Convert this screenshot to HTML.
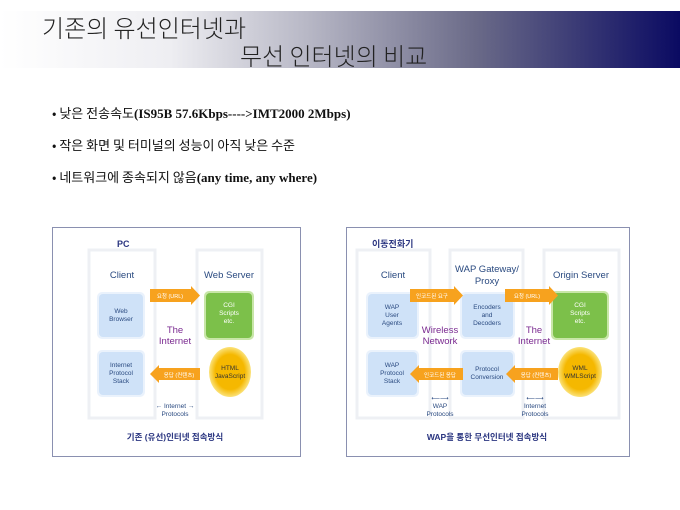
<!DOCTYPE html>
<html><head><meta charset="utf-8"><style>
body{margin:0;width:680px;height:510px;background:#fff;overflow:hidden;position:relative;font-family:"Liberation Sans","Noto Sans CJK KR",sans-serif}
.ban{position:absolute;left:0;top:11px;width:680px;height:57px;background:linear-gradient(to right,#fff 0%,#eeeef2 25%,#b8b8c6 45%,#6a6a88 70%,#0a0a62 100%)}
.t{position:absolute;font-size:24px;color:#222;white-space:nowrap;font-family:"Noto Sans CJK KR",sans-serif;font-weight:300;line-height:28px}
.b{position:absolute;left:52px;font-size:13px;font-family:"Noto Sans CJK KR",sans-serif;color:#111;white-space:nowrap;line-height:16px}
.b b{font-family:"Liberation Serif",serif;font-weight:bold;font-size:13px}
</style></head><body>
<div class="ban"></div>
<div class="t" style="left:42px;top:13px">기존의 유선인터넷과</div>
<div class="t" style="left:240px;top:41px">무선 인터넷의 비교</div>
<div class="b" style="top:105px">• 낮은 전송속도<b>(IS95B 57.6Kbps----&gt;IMT2000 2Mbps)</b></div>
<div class="b" style="top:137px">• 작은 화면 및 터미널의 성능이 아직 낮은 수준</div>
<div class="b" style="top:169px">• 네트워크에 종속되지 않음<b>(any time, any where)</b></div>
<svg width="680" height="510" style="position:absolute;left:0;top:0" font-family="Liberation Sans,Noto Sans CJK KR,sans-serif">
<defs>
<radialGradient id="yc"><stop offset="0.7" stop-color="#f5b800"/><stop offset="1" stop-color="#fbe27a"/></radialGradient>
</defs>
<rect x="52.5" y="227.5" width="248" height="229" fill="#fff" stroke="#8a90b0"/>
<text x="117" y="247" font-size="9" font-weight="bold" fill="#2a3580">PC</text>
<rect x="89" y="250" width="66" height="168" fill="none" stroke="#eef0f4" stroke-width="3"/>
<rect x="197" y="250" width="65" height="168" fill="none" stroke="#eef0f4" stroke-width="3"/>
<text x="122" y="278" font-size="9.5" fill="#2a4a80" text-anchor="middle">Client</text>
<text x="229" y="278" font-size="9.5" fill="#2a4a80" text-anchor="middle">Web Server</text>
<rect x="97" y="292" width="48" height="47" rx="5" fill="#eaf2fc"/>
<rect x="99" y="294" width="44" height="43" rx="4" fill="#cfe2f8"/>
<text x="121" y="313" font-size="6.5" fill="#2a4a80" text-anchor="middle">Web</text>
<text x="121" y="321" font-size="6.5" fill="#2a4a80" text-anchor="middle">Browser</text>
<rect x="97" y="350" width="48" height="47" rx="5" fill="#eaf2fc"/>
<rect x="99" y="352" width="44" height="43" rx="4" fill="#cfe2f8"/>
<text x="121" y="367" font-size="6.5" fill="#2a4a80" text-anchor="middle">Internet</text>
<text x="121" y="375" font-size="6.5" fill="#2a4a80" text-anchor="middle">Protocol</text>
<text x="121" y="383" font-size="6.5" fill="#2a4a80" text-anchor="middle">Stack</text>
<rect x="204" y="291" width="50" height="49" rx="5" fill="#c8e6a8"/>
<rect x="206" y="293" width="46" height="45" rx="4" fill="#7cc04a"/>
<text x="229" y="307" font-size="6.5" fill="#fff" text-anchor="middle">CGI</text>
<text x="229" y="315" font-size="6.5" fill="#fff" text-anchor="middle">Scripts</text>
<text x="229" y="323" font-size="6.5" fill="#fff" text-anchor="middle">etc.</text>
<ellipse cx="230" cy="372" rx="21" ry="25" fill="url(#yc)"/>
<text x="230" y="370" font-size="6.5" fill="#333" text-anchor="middle">HTML</text>
<text x="230" y="378" font-size="6.5" fill="#333" text-anchor="middle">JavaScript</text>
<polygon points="150,289 191,289 191,286 200,295.5 191,305 191,302 150,302" fill="#f7a21e"/>
<text x="170" y="298" font-size="5.5" fill="#fff" text-anchor="middle">요청 (URL)</text>
<polygon points="200,368 159,368 159,365 150,374 159,383 159,380 200,380" fill="#f7a21e"/>
<text x="179" y="377" font-size="5.5" fill="#fff" text-anchor="middle">응답 (컨텐츠)</text>
<text x="175" y="333" font-size="9.5" fill="#7a2a90" text-anchor="middle">The</text>
<text x="175" y="344" font-size="9.5" fill="#7a2a90" text-anchor="middle">Internet</text>
<text x="175" y="408" font-size="6.5" fill="#2a4a80" text-anchor="middle">← Internet →</text>
<text x="175" y="416" font-size="6.5" fill="#2a4a80" text-anchor="middle">Protocols</text>
<text x="175" y="440" font-size="8.5" font-weight="bold" fill="#2a3580" text-anchor="middle">기존 (유선)인터넷 접속방식</text>
<rect x="346.5" y="227.5" width="283" height="229" fill="#fff" stroke="#8a90b0"/>
<text x="372" y="247" font-size="9" font-weight="bold" fill="#2a3580">이동전화기</text>
<rect x="357" y="250" width="73" height="168" fill="none" stroke="#eef0f4" stroke-width="3"/>
<rect x="450" y="250" width="73" height="168" fill="none" stroke="#eef0f4" stroke-width="3"/>
<rect x="544" y="250" width="75" height="168" fill="none" stroke="#eef0f4" stroke-width="3"/>
<text x="393" y="278" font-size="9.5" fill="#2a4a80" text-anchor="middle">Client</text>
<text x="487" y="272" font-size="9.5" fill="#2a4a80" text-anchor="middle">WAP Gateway/</text>
<text x="487" y="284" font-size="9.5" fill="#2a4a80" text-anchor="middle">Proxy</text>
<text x="581" y="278" font-size="9.5" fill="#2a4a80" text-anchor="middle">Origin Server</text>
<rect x="366" y="292" width="53" height="47" rx="5" fill="#eaf2fc"/>
<rect x="368" y="294" width="49" height="43" rx="4" fill="#cfe2f8"/>
<text x="392" y="309" font-size="6.5" fill="#2a4a80" text-anchor="middle">WAP</text>
<text x="392" y="317" font-size="6.5" fill="#2a4a80" text-anchor="middle">User</text>
<text x="392" y="325" font-size="6.5" fill="#2a4a80" text-anchor="middle">Agents</text>
<rect x="366" y="350" width="53" height="47" rx="5" fill="#eaf2fc"/>
<rect x="368" y="352" width="49" height="43" rx="4" fill="#cfe2f8"/>
<text x="392" y="367" font-size="6.5" fill="#2a4a80" text-anchor="middle">WAP</text>
<text x="392" y="375" font-size="6.5" fill="#2a4a80" text-anchor="middle">Protocol</text>
<text x="392" y="383" font-size="6.5" fill="#2a4a80" text-anchor="middle">Stack</text>
<rect x="460" y="292" width="55" height="47" rx="5" fill="#eaf2fc"/>
<rect x="462" y="294" width="51" height="43" rx="4" fill="#cfe2f8"/>
<text x="487" y="309" font-size="6.5" fill="#2a4a80" text-anchor="middle">Encoders</text>
<text x="487" y="317" font-size="6.5" fill="#2a4a80" text-anchor="middle">and</text>
<text x="487" y="325" font-size="6.5" fill="#2a4a80" text-anchor="middle">Decoders</text>
<rect x="460" y="350" width="55" height="47" rx="5" fill="#eaf2fc"/>
<rect x="462" y="352" width="51" height="43" rx="4" fill="#cfe2f8"/>
<text x="487" y="371" font-size="6.5" fill="#2a4a80" text-anchor="middle">Protocol</text>
<text x="487" y="379" font-size="6.5" fill="#2a4a80" text-anchor="middle">Conversion</text>
<rect x="551" y="291" width="58" height="49" rx="5" fill="#c8e6a8"/>
<rect x="553" y="293" width="54" height="45" rx="4" fill="#7cc04a"/>
<text x="580" y="307" font-size="6.5" fill="#fff" text-anchor="middle">CGI</text>
<text x="580" y="315" font-size="6.5" fill="#fff" text-anchor="middle">Scripts</text>
<text x="580" y="323" font-size="6.5" fill="#fff" text-anchor="middle">etc.</text>
<ellipse cx="580" cy="372" rx="22" ry="25" fill="url(#yc)"/>
<text x="580" y="370" font-size="6.5" fill="#333" text-anchor="middle">WML</text>
<text x="580" y="378" font-size="6.5" fill="#333" text-anchor="middle">WMLScript</text>
<polygon points="410,289 454,289 454,286 463,295.5 454,305 454,302 410,302" fill="#f7a21e"/>
<text x="432" y="298" font-size="5.5" fill="#fff" text-anchor="middle">인코드된 요구</text>
<polygon points="505,289 549,289 549,286 558,295.5 549,305 549,302 505,302" fill="#f7a21e"/>
<text x="527" y="298" font-size="5.5" fill="#fff" text-anchor="middle">요청 (URL)</text>
<polygon points="463,368 419,368 419,365 410,374 419,383 419,380 463,380" fill="#f7a21e"/>
<text x="440" y="377" font-size="5.5" fill="#fff" text-anchor="middle">인코드된 응답</text>
<polygon points="558,368 515,368 515,365 506,374 515,383 515,380 558,380" fill="#f7a21e"/>
<text x="536" y="377" font-size="5.5" fill="#fff" text-anchor="middle">응답 (컨텐츠)</text>
<text x="440" y="333" font-size="9.5" fill="#7a2a90" text-anchor="middle">Wireless</text>
<text x="440" y="344" font-size="9.5" fill="#7a2a90" text-anchor="middle">Network</text>
<text x="534" y="333" font-size="9.5" fill="#7a2a90" text-anchor="middle">The</text>
<text x="534" y="344" font-size="9.5" fill="#7a2a90" text-anchor="middle">Internet</text>
<text x="440" y="400" font-size="6" fill="#2a4a80" text-anchor="middle">⟵⟶</text>
<text x="440" y="408" font-size="6.5" fill="#2a4a80" text-anchor="middle">WAP</text>
<text x="440" y="416" font-size="6.5" fill="#2a4a80" text-anchor="middle">Protocols</text>
<text x="535" y="400" font-size="6" fill="#2a4a80" text-anchor="middle">⟵⟶</text>
<text x="535" y="408" font-size="6.5" fill="#2a4a80" text-anchor="middle">Internet</text>
<text x="535" y="416" font-size="6.5" fill="#2a4a80" text-anchor="middle">Protocols</text>
<text x="487" y="440" font-size="8.5" font-weight="bold" fill="#2a3580" text-anchor="middle">WAP을 통한 무선인터넷 접속방식</text>
</svg>
</body></html>
